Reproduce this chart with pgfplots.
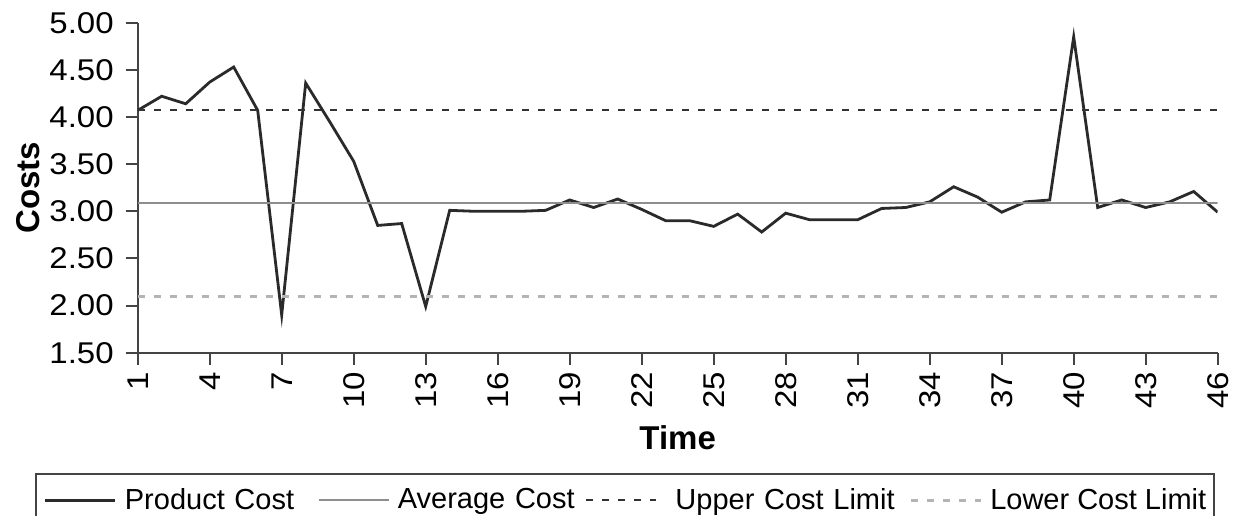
\documentclass[border=0pt]{standalone}
\usepackage{fontspec}
\setmainfont{Liberation Sans}
\newfontfamily\tickfont[FakeStretch=1.1]{Liberation Sans}
\usepackage{pgfplots}
\pgfplotsset{compat=1.18}
\definecolor{prodc}{HTML}{2A2A2A}
\definecolor{avgc}{HTML}{8E8E8E}
\definecolor{upc}{HTML}{333333}
\definecolor{lowc}{HTML}{B4B4B4}
\definecolor{axc}{HTML}{444444}
\begin{document}
\begin{tikzpicture}
\useasboundingbox (-68.85pt,-81.15pt) rectangle (547.65pt,176.35pt);
\begin{axis}[
  at={(0,0)}, anchor=south west,
  scale only axis, width=540pt, height=165pt,
  xmin=1, xmax=46, ymin=1.5, ymax=5,
  xtick={1,4,...,46},
  ytick={1.5,2,...,5},
  axis x line*=bottom, axis y line*=left,
  axis line style={axc, line width=1.1pt, -},
  tick style={axc, line width=1pt},
  tick align=outside,
  major tick length=6pt,
  /pgf/number format/assume math mode=true,
  yticklabel={\pgfmathprintnumber[fixed, fixed zerofill, precision=2]{\tick}},
  yticklabel style={font=\tickfont\fontsize{15}{18}\selectfont, anchor=east, inner sep=0pt, xshift=-5.8pt},
  xticklabel style={font=\tickfont\fontsize{15}{18}\selectfont, yshift=-3.5pt, rotate=90, anchor=east, inner sep=0pt},
  every axis y label/.style={at={(axis description cs:0,0.5)}, xshift=-55pt, rotate=90, anchor=center, font=\fontsize{16.5}{19}\selectfont\bfseries},
  every axis x label/.style={at={(axis description cs:0.5,0)}, yshift=-42.6pt, anchor=center, font=\fontsize{16.5}{19}\selectfont\bfseries},
  ylabel={Costs}, xlabel={Time},
  legend columns=4,
  legend style={at={(-0.0951,-0.3646)}, anchor=north west, draw=axc, line width=1.1pt,
    font=\fontsize{14.5}{17}\selectfont, inner xsep=4pt, inner ysep=5pt,
    /tikz/every odd column/.append style={column sep=4pt}},
  legend image code/.code={\draw[#1] (0pt,0pt) -- (35pt,0pt);},
]
\addplot[prodc, line width=1.4pt] coordinates {
(1,4.07) (2,4.22) (3,4.14) (4,4.37) (5,4.53) (6,4.07) (7,1.90) (8,4.36)
(9,3.95) (10,3.53) (11,2.85) (12,2.87) (13,1.99) (14,3.01) (15,3.00) (16,3.00)
(17,3.00) (18,3.01) (19,3.12) (20,3.04) (21,3.13) (22,3.02) (23,2.90) (24,2.90)
(25,2.84) (26,2.97) (27,2.78) (28,2.98) (29,2.91) (30,2.91) (31,2.91) (32,3.03)
(33,3.04) (34,3.10) (35,3.26) (36,3.15) (37,2.99) (38,3.10) (39,3.12) (40,4.85)
(41,3.04) (42,3.12) (43,3.04) (44,3.10) (45,3.21) (46,2.99)};
\addlegendentry[text width=96.5pt, inner xsep=0pt]{Product Cost}
\addplot[avgc, line width=1pt] coordinates {(1,3.085) (46,3.085)};
\addlegendentry[text width=93.5pt, inner xsep=0pt]{Average Cost}
\addplot[upc, line width=1.3pt, dash pattern=on 3.5pt off 4.5pt] coordinates {(1,4.075) (46,4.075)};
\addlegendentry[text width=122pt, inner xsep=0pt]{\hspace*{5pt}Upper Cost Limit}
\addplot[lowc, line width=1.4pt, dash pattern=on 3.5pt off 4.5pt] coordinates {(1,2.095) (46,2.095)};
\addlegendentry[inner xsep=0pt]{Lower Cost Limit}
\end{axis}
\end{tikzpicture}
\end{document}
